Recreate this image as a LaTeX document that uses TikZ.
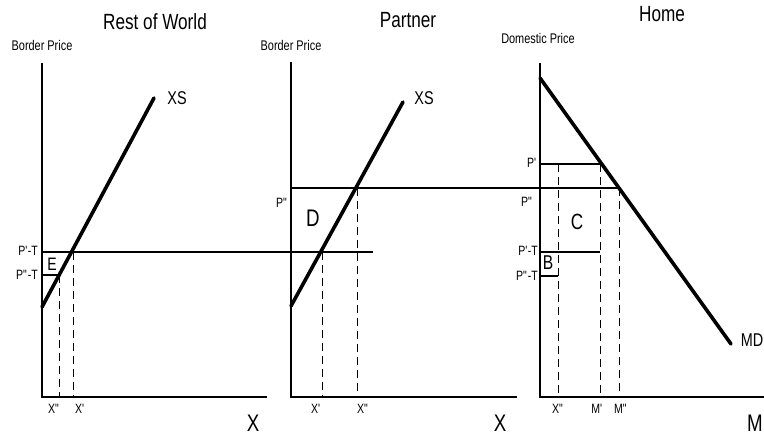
\documentclass[tikz,border=0pt]{standalone}
\usepackage{fontspec}
\newfontfamily\lab{Liberation Sans}[FakeStretch=0.78]
\newcommand\myp{\textquotesingle}
\newcommand\mydp{\textquotedbl}
\begin{document}
\begin{tikzpicture}[x=1pt,y=-1pt,
  axis/.style={line width=1.3pt},
  curve/.style={line width=3.6pt,line cap=round},
  hline/.style={line width=1.2pt},
  dline/.style={line width=1pt,dash pattern=on 8pt off 5pt},
  title/.style={font=\lab\fontsize{22}{24}\selectfont,inner sep=0pt},
  small/.style={font=\lab\fontsize{14}{16}\selectfont,inner sep=0pt},
  tick/.style={font=\lab\fontsize{13.5}{15}\selectfont,inner sep=0pt},
  area/.style={font=\lab\fontsize{22}{24}\selectfont,inner sep=0pt},
  curvelab/.style={font=\lab\fontsize{18.5}{20}\selectfont,inner sep=0pt},
  big/.style={font=\lab\fontsize{24}{26}\selectfont,inner sep=0pt}]
\useasboundingbox[fill=white] (0,0) rectangle (764,437);

% ---------- Rest of World ----------
\coordinate (t1) at (42,63);
\coordinate (o1) at (42,397);
\coordinate (e1) at (267,397);
\draw[axis] (t1) -- (o1) -- (e1);
\coordinate (xs1a) at (42,307);
\coordinate (xs1b) at (154,98);
\draw[curve] (xs1a) -- (xs1b);
\coordinate (pt1) at (42,252);
\coordinate (pt2) at (373,252);
\draw[hline] (pt1) -- (pt2);
\coordinate (ppt1) at (42,275);
\coordinate (ppt1e) at (59,275);
\draw[hline] (ppt1) -- (ppt1e);
\coordinate (x1a) at (59,397);
\coordinate (x1b) at (73,252);
\coordinate (x1bb) at (73,397);
\draw[dline] (ppt1e) -- (x1a);
\draw[dline] (x1b) -- (x1bb);

\node[title] (rw) at (155,22) {Rest of World};
\node[small] (bp1) at (42,45) {Border Price};
\node[curvelab] (xs1) at (177,98) {XS};
\node[tick,anchor=east] (l1) at (38,251) {P\myp-T};
\node[tick,anchor=east] (l2) at (38,275) {P\mydp-T};
\node[area,font=\lab\fontsize{18}{20}\selectfont] (E) at (52,264) {E};
\node[tick] (lx1) at (54,409) {X\mydp};
\node[tick] (lx2) at (80,409) {X\myp};
\node[big] (X1) at (253,423) {X};

% ---------- Partner ----------
\coordinate (t2) at (291,62);
\coordinate (o2) at (291,397);
\coordinate (e2) at (517,397);
\draw[axis] (t2) -- (o2) -- (e2);
\coordinate (xs2a) at (291,306);
\coordinate (xs2b) at (403,102);
\draw[curve] (xs2a) -- (xs2b);
\coordinate (pp1) at (291,188);
\coordinate (pp2) at (619,188);
\draw[hline] (pp1) -- (pp2);
\coordinate (x2a) at (322,252);
\coordinate (x2aa) at (322,397);
\coordinate (x2b) at (357,188);
\coordinate (x2bb) at (357,397);
\draw[dline] (x2a) -- (x2aa);
\draw[dline] (x2b) -- (x2bb);

\node[title] (pa) at (408,20) {Partner};
\node[small] (bp2) at (291,45) {Border Price};
\node[curvelab] (xs2) at (424,98) {XS};
\node[tick] (lp2) at (282,203) {P\mydp};
\node[area,font=\lab\fontsize{24}{26}\selectfont] (D) at (313,218) {D};
\node[tick] (lx3) at (316,409) {X\myp};
\node[tick] (lx4) at (363,409) {X\mydp};
\node[big] (X2) at (500,423) {X};

% ---------- Home ----------
\coordinate (t3) at (540,63);
\coordinate (o3) at (540,397);
\coordinate (e3) at (764,397);
\draw[axis] (t3) -- (o3) -- (e3);
\coordinate (mda) at (540,78);
\coordinate (mdb) at (731,344);
\draw[curve] (mda) -- (mdb);
\coordinate (hp1) at (540,164);
\coordinate (hp1e) at (601,164);
\draw[hline] (hp1) -- (hp1e);
\coordinate (hpt1) at (540,252);
\coordinate (hpt1e) at (600,252);
\draw[hline] (hpt1) -- (hpt1e);
\coordinate (hppt1) at (540,276);
\coordinate (hppt1e) at (558,276);
\draw[hline] (hppt1) -- (hppt1e);
\coordinate (hx1) at (558,164);
\coordinate (hx1b) at (558,397);
\coordinate (hm1) at (600,164);
\coordinate (hm1b) at (600,397);
\coordinate (hm2) at (619,188);
\coordinate (hm2b) at (619,397);
\draw[dline] (hx1) -- (hx1b);
\draw[dline] (hm1) -- (hm1b);
\draw[dline] (hm2) -- (hm2b);

\node[title] (ho) at (662,14) {Home};
\node[small] (dp) at (538,38) {Domestic Price};
\node[curvelab] (md) at (752,340) {MD};
\node[tick,anchor=east] (hl1) at (537,163) {P\myp};
\node[tick] (hl2) at (527,202) {P\mydp};
\node[tick,anchor=east] (hl3) at (538,251) {P\myp-T};
\node[tick,anchor=east] (hl4) at (538,276) {P\mydp-T};
\node[area] (C) at (577,222) {C};
\node[area,font=\lab\fontsize{20}{22}\selectfont] (B) at (548,263) {B};
\node[tick] (lx5) at (558,409) {X\mydp};
\node[tick] (lm1) at (597,409) {M\myp};
\node[tick] (lm2) at (621,409) {M\mydp};
\node[big] (M) at (755,423) {M};
\end{tikzpicture}
\end{document}
